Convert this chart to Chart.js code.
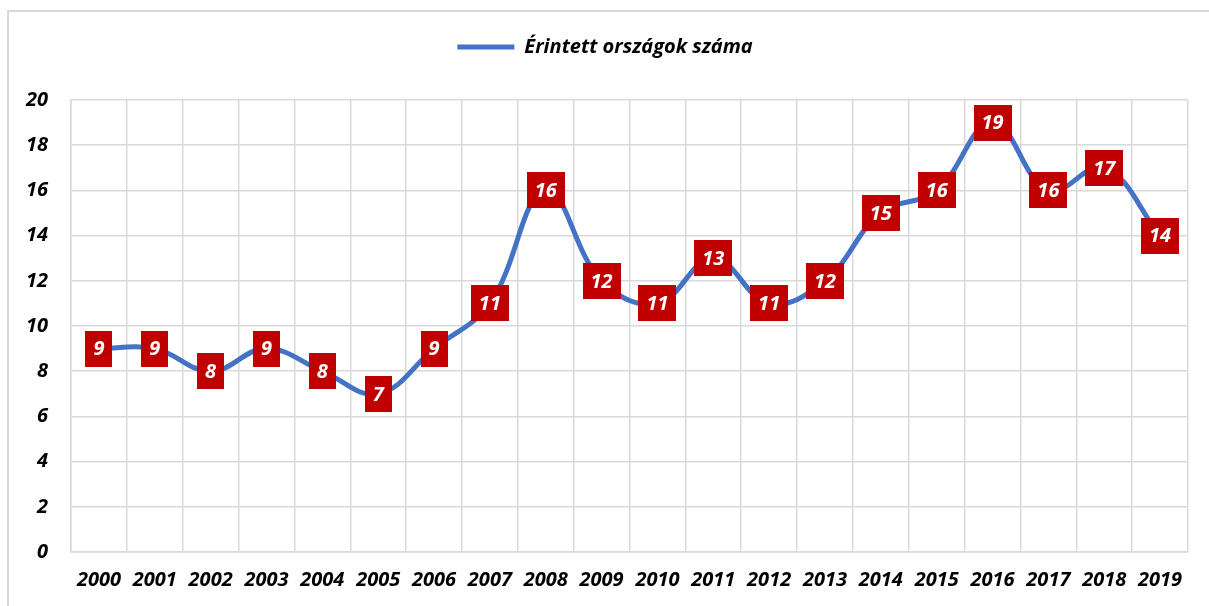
<!DOCTYPE html>
<html>
<head>
<meta charset="utf-8">
<script src="https://cdn.jsdelivr.net/npm/chart.js@4"></script>
<style>
  html, body { margin: 0; padding: 0; background: #ffffff; overflow: hidden; }
  #frame { position: absolute; left: 7px; top: 10px; width: 1260px; height: 660px; border: 2px solid #D9D9D9; box-sizing: border-box; }
  #wrap { position: absolute; left: 0; top: 0; width: 1209px; height: 606px; }
</style>
</head>
<body>
<div id="frame"></div>
<div id="wrap"><canvas id="c" width="1209" height="606"></canvas></div>
<script>
const years = ['2000','2001','2002','2003','2004','2005','2006','2007','2008','2009',
               '2010','2011','2012','2013','2014','2015','2016','2017','2018','2019'];
const affectedCountries = [9, 9, 8, 9, 8, 7, 9, 11, 16, 12, 11, 13, 11, 12, 15, 16, 19, 16, 17, 14];
const seriesName = 'Érintett országok száma';
const yTicks = [0, 2, 4, 6, 8, 10, 12, 14, 16, 18, 20];

const FONT_FAMILY = '"Open Sans", Lato, "Noto Sans", sans-serif';
const FONT_WEIGHT = 'bold';
const PAD_TOP = 12;
const LEGEND_BLOCK = 88; // legend box height, plot starts below it

const boxLabels = {
  id: 'boxLabels',
  beforeLayout(chart) {
    const lg = chart.legend;
    if (lg && !lg._fixedHeight) {
      const orig = lg.fit.bind(lg);
      lg.fit = function () { orig(); this.height = LEGEND_BLOCK; };
      lg._fixedHeight = true;
    }
  },
  afterDatasetsDraw(chart) {
    const ctx = chart.ctx;
    const meta = chart.getDatasetMeta(0);
    const values = chart.data.datasets[0].data;
    ctx.save();
    ctx.font = 'italic ' + FONT_WEIGHT + ' 20px ' + FONT_FAMILY;
    ctx.textAlign = 'center';
    ctx.textBaseline = 'middle';
    meta.data.forEach((pt, i) => {
      const txt = String(values[i]);
      const w = Math.round(ctx.measureText(txt).width + 16);
      const h = 36;
      ctx.fillStyle = '#C00000';
      ctx.fillRect(Math.round(pt.x - w / 2), Math.round(pt.y - h / 2), w, h);
      ctx.fillStyle = '#FFFFFF';
      ctx.fillText(txt, pt.x, pt.y + 1);
    });
    ctx.restore();
  }
};

const tickFont = { family: FONT_FAMILY, size: 20, weight: FONT_WEIGHT, style: 'italic' };

new Chart(document.getElementById('c'), {
  type: 'line',
  data: {
    labels: years,
    datasets: [{
      label: seriesName,
      data: affectedCountries,
      borderColor: '#4472C4',
      backgroundColor: '#4472C4',
      borderWidth: 5,
      borderCapStyle: 'round',
      borderJoinStyle: 'round',
      tension: 0.4,
      pointRadius: 0,
      pointHoverRadius: 0,
      fill: false
    }]
  },
  options: {
    responsive: false,
    animation: false,
    events: [],
    layout: { padding: { top: PAD_TOP, right: 21, left: 22, bottom: 0 } },
    plugins: {
      tooltip: { enabled: false },
      legend: {
        display: true,
        position: 'top',
        labels: {
          usePointStyle: true,
          pointStyle: 'line',
          pointStyleWidth: 57,
          padding: 25,
          color: '#000000',
          font: { family: FONT_FAMILY, size: 20, weight: FONT_WEIGHT, style: 'italic' }
        }
      }
    },
    scales: {
      x: {
        type: 'category',
        offset: true,
        grid: { offset: true, color: '#D9D9D9', lineWidth: 1.5, drawTicks: false },
        border: { color: '#D9D9D9', width: 1.5 },
        ticks: {
          color: '#000000',
          padding: 16,
          maxRotation: 0,
          autoSkip: false,
          font: tickFont
        },
        afterFit(scale) { scale.height = 54; }
      },
      y: {
        min: 0,
        max: 20,
        afterBuildTicks(scale) { scale.ticks = yTicks.map(v => ({ value: v })); },
        grid: { color: '#D9D9D9', lineWidth: 1.5, drawTicks: false },
        border: { color: '#D9D9D9', width: 1.5 },
        ticks: {
          color: '#000000',
          padding: 23,
          font: tickFont
        },
        afterFit(scale) { scale.width = 49; }
      }
    }
  },
  plugins: [boxLabels]
});
</script>
</body>
</html>
